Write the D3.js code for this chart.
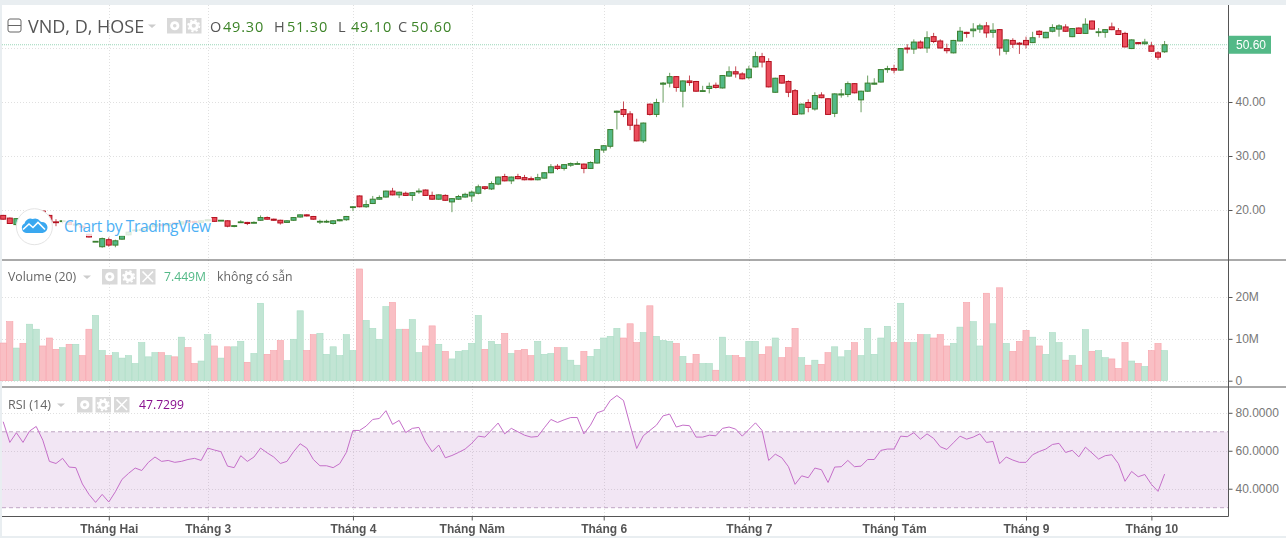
<!DOCTYPE html>
<html>
<head>
<meta charset="utf-8">
<script src="https://cdn.jsdelivr.net/npm/d3@7"></script>
<style>
html,body{margin:0;padding:0;background:#e9eef1;overflow:hidden}
svg{display:block;filter:blur(.3px)}
</style>
</head>
<body>
<script>
const symbolLabel = "VND, D, HOSE";
const ohlcLegend = [["O","49.30"],["H","51.30"],["L","49.10"],["C","50.60"]];
const monthLabels = ["Tháng Hai","Tháng 3","Tháng 4","Tháng Năm","Tháng 6","Tháng 7","Tháng Tám","Tháng 9","Tháng 10"];
const monthIndex = [16,31,53,71,91,113,135,155,174];
const priceTicks = [20,30,40];
const lastPrice = 50.6;
const volumeTicks = [0,10,20];
const rsiTicks = [40,60,80];

const opens = [
19.0,18.5,17.3,18.6,17.9,18.2,19.8,19.0,17.8,17.9,
17.7,17.2,17.0,15.5,14.1,13.2,14.5,13.5,14.6,15.4,
16.2,16.2,16.5,16.9,17.3,17.1,17.6,17.4,18.0,17.9,
17.7,18.0,18.6,18.0,18.0,17.0,17.7,17.7,17.6,18.1,
18.6,18.3,18.1,17.7,18.1,18.7,19.1,18.8,17.8,17.8,
17.5,18.0,18.2,20.5,22.6,20.6,21.2,22.0,22.4,23.5,
22.8,23.1,22.7,23.4,23.7,22.7,22.0,22.7,21.5,22.0,
22.4,22.6,23.1,24.3,23.9,24.8,26.2,25.4,26.2,26.0,
25.8,25.6,25.9,26.9,28.1,27.7,28.3,28.5,28.5,27.7,
28.7,31.1,31.8,38.1,38.6,37.8,35.7,32.8,39.6,37.7,
43.3,43.5,44.7,42.0,43.9,43.8,42.0,42.5,43.1,42.6,
44.8,45.6,45.2,44.5,46.5,48.4,47.5,41.8,44.9,43.8,
42.1,37.8,39.9,38.7,41.3,40.6,37.9,41.3,41.4,43.4,
40.4,42.0,43.3,43.7,46.0,46.2,45.9,50.0,49.8,51.1,
50.0,52.1,51.3,49.9,49.1,51.3,52.9,53.2,53.5,54.1,
52.9,53.4,49.4,51.4,50.9,51.4,51.0,53.1,51.9,53.1,
53.5,53.9,52.1,53.7,52.7,55.0,52.9,52.9,53.9,53.2,
52.7,49.9,51.0,50.8,50.4,49.1,49.3];
const highs = [
19.1,18.6,18.5,18.7,18.6,18.6,20.0,19.1,18.3,18.1,
17.9,17.6,17.2,15.6,14.2,14.9,14.9,14.5,15.3,16.0,
16.4,16.5,17.0,17.4,17.4,17.6,17.7,17.9,18.1,18.0,
18.1,18.3,18.7,18.1,18.1,17.2,18.1,17.8,17.9,19.0,
18.8,18.4,18.2,18.1,18.7,19.2,19.2,18.9,18.2,18.2,
18.1,18.3,18.9,20.7,22.7,21.8,22.6,22.7,23.6,24.1,
23.4,23.4,23.3,24.0,23.8,23.4,22.9,22.9,22.2,22.8,
23.2,23.6,24.7,24.4,25.3,26.2,26.7,26.2,26.7,26.5,
26.2,26.7,27.0,28.5,28.5,28.5,28.8,29.0,28.6,29.0,
31.3,32.0,35.0,38.4,40.1,38.3,36.9,36.2,39.7,40.6,
43.7,45.4,44.8,44.0,44.9,43.9,43.0,43.6,43.6,45.0,
46.6,46.6,45.5,46.7,49.3,49.1,48.1,44.5,45.0,44.0,
42.4,39.7,40.5,41.8,41.8,40.7,41.6,42.4,43.8,43.5,
42.1,44.9,44.4,46.1,46.7,46.9,50.0,50.7,51.6,51.4,
53.1,52.8,51.6,50.8,51.5,53.9,53.0,54.6,54.5,54.8,
54.6,53.5,51.6,51.8,51.1,52.1,53.0,53.3,53.0,54.4,
54.4,54.4,53.7,53.8,55.5,55.1,53.7,53.5,54.7,53.7,
53.0,51.6,51.1,51.7,51.1,49.4,51.3];
const lows = [
18.2,17.4,17.0,17.9,17.8,18.1,18.8,17.2,17.0,17.5,
17.2,17.1,16.7,14.9,14.1,13.0,13.2,13.1,14.5,15.3,
16.1,15.8,16.4,16.8,17.0,17.0,17.3,17.3,17.6,17.6,
17.6,17.9,17.8,18.0,16.8,16.8,17.6,17.2,17.5,18.0,
18.2,18.0,17.3,17.6,18.0,18.6,18.8,18.2,17.4,17.6,
17.3,17.9,18.0,19.8,20.5,20.4,21.1,21.9,22.3,22.7,
22.2,22.6,21.7,23.0,22.6,21.9,21.9,21.7,19.6,21.9,
22.3,21.5,22.9,23.7,23.7,24.6,25.3,24.8,25.7,25.5,
25.5,25.5,25.8,26.8,27.4,27.3,28.0,28.5,26.8,27.6,
28.6,30.6,31.4,34.9,37.2,34.8,32.7,32.4,37.5,37.2,
39.9,42.7,41.9,39.0,43.0,41.9,41.9,41.6,42.5,42.5,
44.7,44.5,44.2,44.2,46.4,46.4,42.7,41.7,43.4,40.9,
37.6,37.7,38.1,38.4,40.7,37.6,37.2,40.8,40.9,41.6,
38.1,41.9,43.2,43.6,45.4,45.3,45.8,49.0,48.9,49.9,
49.1,50.9,49.9,49.0,49.0,51.2,51.9,52.0,52.8,51.9,
51.9,48.6,48.8,50.0,48.9,49.9,50.9,51.9,51.8,52.9,
52.1,53.0,52.0,52.6,52.6,53.4,52.1,51.9,53.3,52.4,
50.1,49.8,50.7,50.6,49.3,47.8,49.1];
const closes = [
18.3,17.5,18.4,18.0,18.4,18.5,18.9,17.8,17.7,18.0,
17.3,17.4,16.8,15.0,14.2,14.7,13.5,14.3,15.2,15.9,
16.3,16.4,16.9,17.3,17.1,17.5,17.4,17.8,17.7,17.7,
18.0,18.2,17.9,18.1,17.0,17.1,17.8,17.5,17.7,18.6,
18.3,18.1,17.6,18.0,18.6,19.1,18.9,18.3,17.9,17.9,
18.0,18.2,18.8,20.6,20.6,21.0,22.0,22.3,23.5,22.8,
23.3,22.7,23.2,23.5,22.7,22.0,22.8,21.8,22.1,22.5,
22.9,23.3,24.3,24.0,24.9,26.1,25.4,26.1,25.8,25.6,
25.6,26.0,26.9,28.0,27.7,28.4,28.6,28.6,27.7,28.8,
31.2,31.9,34.9,38.3,37.7,35.7,32.8,36.1,37.7,39.9,
43.5,44.7,42.7,43.9,43.6,42.0,42.1,42.9,42.7,44.9,
45.6,45.2,44.3,46.1,48.4,47.4,42.8,44.4,43.5,41.8,
37.7,39.6,39.0,41.2,40.8,37.7,41.5,41.5,43.4,41.7,
42.0,43.5,43.5,46.0,46.2,45.9,49.9,49.8,51.1,50.0,
51.9,51.2,50.0,49.5,51.4,53.1,52.7,53.5,54.1,52.8,
53.3,50.0,51.5,50.7,50.7,50.6,51.9,52.5,52.9,53.8,
54.1,53.1,53.6,52.7,54.4,53.5,53.0,53.4,53.4,52.5,
50.2,51.5,50.8,51.1,49.4,48.3,50.6];
const volumes = [
9.0,14.1,7.8,8.9,13.5,12.3,8.3,10.2,7.5,7.9,
8.7,8.7,6.0,12.3,15.6,7.2,6.0,6.7,5.4,6.0,
4.1,9.1,5.7,6.7,6.7,6.0,5.7,10.4,7.9,4.1,
4.7,11.0,8.3,5.4,8.1,8.1,9.4,4.4,6.5,18.5,
6.3,7.2,9.6,4.8,9.9,16.7,7.2,11.0,11.3,6.3,
8.1,6.0,11.0,7.2,26.7,14.4,12.5,9.9,17.7,18.7,
12.3,12.3,14.6,6.7,8.3,13.1,8.7,7.0,5.2,7.0,
7.2,8.9,15.6,7.5,9.4,8.7,11.3,6.5,7.2,7.5,
6.0,9.4,6.3,6.5,7.9,7.9,4.9,3.7,7.0,5.8,
7.5,10.2,10.6,12.5,10.2,13.6,9.1,11.5,17.9,10.6,
9.6,9.4,8.9,5.8,4.1,6.3,4.1,4.1,2.5,10.4,
6.0,6.0,5.5,9.4,9.4,6.3,8.1,10.2,5.5,7.9,
12.5,5.5,3.7,4.9,3.9,6.7,8.1,5.7,7.2,9.1,
6.0,12.5,6.3,10.2,13.0,9.1,18.5,9.1,9.1,11.0,
11.0,10.2,11.0,8.3,8.9,12.8,18.7,14.1,8.3,20.9,
13.6,22.2,8.9,7.0,9.4,12.0,10.4,8.3,6.3,11.5,
9.1,4.9,6.0,3.7,12.2,7.0,7.2,5.5,5.2,2.9,
9.1,4.7,4.1,3.4,7.2,8.9,7.2];
const rsi = [
75.3,64.4,69.5,64.4,70.4,72.8,65.6,54.4,53.3,56.0,
51.4,51.1,42.5,37.0,32.8,37.0,33.0,38.4,44.9,48.1,
50.9,49.6,53.9,56.7,54.4,54.9,53.9,54.4,55.4,56.0,
54.9,61.4,60.4,59.5,51.9,51.1,57.4,54.4,56.7,61.4,
58.9,56.7,53.3,54.4,59.5,63.7,61.4,55.4,52.1,52.1,
51.1,53.2,59.1,70.7,70.7,73.0,76.5,77.0,81.1,73.9,
76.0,69.6,71.8,72.3,64.7,59.5,63.0,56.3,57.5,59.1,
60.9,63.9,67.7,67.2,70.9,74.6,68.9,71.8,70.0,68.2,
67.2,67.5,72.1,76.5,74.9,76.3,77.5,77.5,68.9,73.5,
80.0,81.2,86.5,89.1,86.5,73.5,61.2,67.9,70.7,73.5,
78.4,79.3,72.5,73.5,73.2,67.2,67.2,68.2,67.9,71.8,
72.5,71.4,67.7,71.2,74.7,70.7,54.9,58.2,56.3,51.6,
42.3,46.8,45.8,50.9,50.0,43.3,51.4,51.6,54.9,51.6,
51.9,55.4,55.4,60.2,60.9,60.9,67.7,67.4,69.5,66.1,
68.9,66.5,62.1,60.7,64.2,67.7,66.1,67.2,68.9,64.4,
64.9,53.2,56.7,55.1,53.9,53.9,57.9,59.6,60.9,63.3,
63.9,59.1,60.2,56.8,61.9,58.8,55.6,57.4,57.9,53.2,
43.9,49.1,46.3,47.5,42.3,38.6,47.7];

const W = 1286, H = 538, L = 2, T = 5, R = 1228.5, S1 = 260, S2 = 387, B = 516.5;
const UP = "#53b987", DN = "#eb4d5c", UPD = "#3a7f2e", DND = "#b2101e";

const svg = d3.select("body").append("svg").attr("width", W).attr("height", H);
svg.append("rect").attr("x", L).attr("y", T).attr("width", W - L).attr("height", 531).attr("fill", "#fff");

const x = d3.scaleLinear().domain([0, 176]).range([3.2, 1164.6]);
const yP = d3.scaleLinear().domain([20, 40]).range([210, 102]);
const yV = d3.scaleLinear().domain([0, 20]).range([380.7, 297]);
const yR = d3.scaleLinear().domain([30, 80]).range([507.7, 412.8]);
const idx = d3.range(opens.length);
const step = x(1) - x(0);

// grid
const grid = svg.append("g").attr("stroke", "#e0e0e0").attr("stroke-dasharray", "1 2").attr("fill", "none");
monthIndex.forEach(i => grid.append("line").attr("x1", Math.round(x(i)) + .5).attr("x2", Math.round(x(i)) + .5).attr("y1", T).attr("y2", B));
const hLines = [...[20,30,40,50].map(yP), ...volumeTicks.map(yV), ...rsiTicks.map(yR)];
hLines.forEach(y => grid.append("line").attr("x1", L).attr("x2", R).attr("y1", Math.round(y) + .5).attr("y2", Math.round(y) + .5));

// RSI band
svg.append("rect").attr("x", L).attr("width", R - L).attr("y", yR(70)).attr("height", yR(30) - yR(70)).attr("fill", "#9b3aa8").attr("fill-opacity", .125);
[70, 30].forEach(v => svg.append("line").attr("x1", L).attr("x2", R).attr("y1", yR(v)).attr("y2", yR(v))
  .attr("stroke", "#bfa6c4").attr("stroke-dasharray", "4 3"));

// last price line
svg.append("line").attr("x1", L).attr("x2", R).attr("y1", yP(lastPrice)).attr("y2", yP(lastPrice))
  .attr("stroke", UP).attr("stroke-opacity", .6).attr("stroke-dasharray", "1 1");

// candles
const bw = 5;
const candle = svg.append("g").selectAll("g").data(idx).join("g");
candle.append("line").attr("x1", i => x(i)).attr("x2", i => x(i))
  .attr("y1", i => yP(highs[i])).attr("y2", i => yP(lows[i]))
  .attr("stroke", i => closes[i] >= opens[i] ? UPD : DND).attr("stroke-opacity", .75).attr("stroke-width", 1);
candle.append("rect").attr("x", i => x(i) - bw / 2).attr("width", bw)
  .attr("y", i => yP(Math.max(opens[i], closes[i])))
  .attr("height", i => Math.max(.8, Math.abs(yP(opens[i]) - yP(closes[i]))))
  .attr("fill", i => closes[i] >= opens[i] ? UP : DN)
  .attr("stroke", i => closes[i] >= opens[i] ? UPD : DND).attr("stroke-width", 1);

// volume
svg.append("g").selectAll("rect").data(idx).join("rect")
  .attr("x", i => x(i) - step / 2 + .2).attr("width", step - .4)
  .attr("y", i => yV(volumes[i])).attr("height", i => yV(0) - yV(volumes[i]))
  .attr("fill", i => closes[i] >= opens[i] ? "#c2e5d4" : "#f9bfc4")
  .attr("stroke", i => closes[i] >= opens[i] ? "#a9dcc4" : "#f7a3ab").attr("stroke-width", .6);

// RSI line
svg.append("path").datum(idx).attr("fill", "none").attr("stroke", "#c56fc9").attr("stroke-width", 1)
  .attr("d", d3.line().x(i => x(i)).y(i => yR(rsi[i])));

// watermark
const wm = svg.append("g");
wm.append("rect").attr("x", 62).attr("y", 218).attr("width", 150).attr("height", 18).attr("fill", "#fff").attr("fill-opacity", .82);
wm.append("circle").attr("cx", 34.4).attr("cy", 226.7).attr("r", 18).attr("fill", "#fff").attr("stroke", "#e4e4e4");
wm.append("path").attr("fill", "#3aa8f0")
  .attr("d", "M27 233 a5 5 0 0 1 -2.5 -9.4 a6 6 0 0 1 8 -4.6 a7 7 0 0 1 8 2.4 a5 5 0 0 1 1 .6 a5.4 5.4 0 0 1 1 11 z");
wm.append("path").attr("fill", "none").attr("stroke", "#fff").attr("stroke-width", 1.6)
  .attr("d", "M23 229.5 l6 -5.5 4 3.5 5 -5 7 7");
wm.append("text").attr("x", 64).attr("y", 231.5).attr("fill", "#4db0f4")
  .attr("font-family", "'Open Sans'").attr("font-size", 15.5).attr("textLength", 147).text("Chart by TradingView");

// separators & axes
[S1, S2].forEach(y => svg.append("line").attr("x1", L).attr("x2", W).attr("y1", y).attr("y2", y).attr("stroke", "#555"));
const styleAxis = g => {
  g.select(".domain").remove();
  g.selectAll("line").attr("stroke", "#555");
  g.selectAll("text").attr("fill", "#777").attr("font-family", "'Liberation Sans'").attr("font-size", 12);
};
svg.append("g").attr("transform", `translate(${R},0)`)
  .call(d3.axisRight(yP).tickValues(priceTicks).tickSize(4).tickPadding(3).tickFormat(d3.format(".2f"))).call(styleAxis);
svg.append("g").attr("transform", `translate(${R},0)`)
  .call(d3.axisRight(yV).tickValues(volumeTicks).tickSize(4).tickPadding(3).tickFormat(d => d ? d + "M" : "0")).call(styleAxis);
svg.append("g").attr("transform", `translate(${R},0)`)
  .call(d3.axisRight(yR).tickValues(rsiTicks).tickSize(4).tickPadding(3).tickFormat(d3.format(".4f"))).call(styleAxis);
const xAxis = svg.append("g").attr("transform", `translate(0,${B})`)
  .call(d3.axisBottom(d3.scaleLinear().domain(x.domain()).range(x.range())).tickValues(monthIndex).tickSize(4).tickPadding(4)
    .tickFormat((d, i) => monthLabels[i])).call(styleAxis);
xAxis.selectAll("text").attr("font-weight", "bold").attr("fill", "#555");
svg.append("line").attr("x1", L).attr("x2", R).attr("y1", B).attr("y2", B).attr("stroke", "#555");
svg.append("line").attr("x1", R).attr("x2", R).attr("y1", T).attr("y2", B).attr("stroke", "#555");

// last price label
svg.append("rect").attr("x", R).attr("y", yP(lastPrice) - 9).attr("width", 42.5).attr("height", 18).attr("fill", UP);
svg.append("text").attr("x", 1236).attr("y", yP(lastPrice) + 4.5).attr("fill", "#fff")
  .attr("font-family", "'Liberation Sans'").attr("font-size", 12).text(d3.format(".2f")(lastPrice));

// legends
const txt = (x0, y0, s, fill, size, spacing) => svg.append("text").attr("x", x0).attr("y", y0).attr("fill", fill)
  .attr("font-family", "'Open Sans'").attr("font-size", size).attr("letter-spacing", spacing || 0).text(s);
svg.append("rect").attr("x", 8).attr("y", 19).attr("width", 13).attr("height", 13).attr("rx", 2).attr("fill", "none").attr("stroke", "#666");
svg.append("line").attr("x1", 8).attr("x2", 21).attr("y1", 25.5).attr("y2", 25.5).attr("stroke", "#666");
txt(28, 33, symbolLabel, "#555", 18);
const tri = (x0, y0) => svg.append("path").attr("fill", "#ccc").attr("d", `M${x0} ${y0} h8 l-4 3.5 z`);
tri(148, 24.5);
const ohlcX = [210, 274, 338, 398];
ohlcLegend.forEach((d, i) => {
  txt(ohlcX[i], 32, d[0], "#555", 14.5);
  txt(ohlcX[i] + 13, 32, d[1], "#3d8428", 14.5, .8);
});
const iconBox = (x0, y0, kind) => {
  svg.append("rect").attr("x", x0).attr("y", y0).attr("width", 15.5).attr("height", 15.5).attr("fill", "#d9d9d9");
  const cx = x0 + 7.75, cy = y0 + 7.75;
  if (kind === "eye") {
    svg.append("circle").attr("cx", cx).attr("cy", cy).attr("r", 4.6).attr("fill", "#fff");
    svg.append("circle").attr("cx", cx).attr("cy", cy).attr("r", 1.8).attr("fill", "#d9d9d9");
  } else if (kind === "gear") {
    svg.append("circle").attr("cx", cx).attr("cy", cy).attr("r", 3.6).attr("fill", "none").attr("stroke", "#fff").attr("stroke-width", 3);
    svg.append("circle").attr("cx", cx).attr("cy", cy).attr("r", 5.6).attr("fill", "none").attr("stroke", "#fff").attr("stroke-width", 1.8).attr("stroke-dasharray", "2.2 2.2");
  } else {
    svg.append("path").attr("stroke", "#fff").attr("stroke-width", 1.6).attr("d", `M${x0 + 2.5} ${y0 + 2.5} L${x0 + 13} ${y0 + 13} M${x0 + 13} ${y0 + 2.5} L${x0 + 2.5} ${y0 + 13}`);
  }
};
iconBox(167, 18, "eye"); iconBox(186, 18, "gear");
txt(8, 281, "Volume (20)", "#666", 12.3);
tri(83, 275.5);
iconBox(102, 269, "eye"); iconBox(121, 269, "gear"); iconBox(140, 269, "x");
txt(164, 281, "7.449M", "#53b987", 12.2);
txt(217, 281, "không có sẫn", "#666", 12.3);
txt(8, 409, "RSI (14)", "#666", 12.5);
tri(57, 403.5);
iconBox(77, 397, "eye"); iconBox(95.5, 397, "gear"); iconBox(114, 397, "x");
txt(139, 409, "47.7299", "#880e8f", 12.2);
</script>
</body>
</html>
